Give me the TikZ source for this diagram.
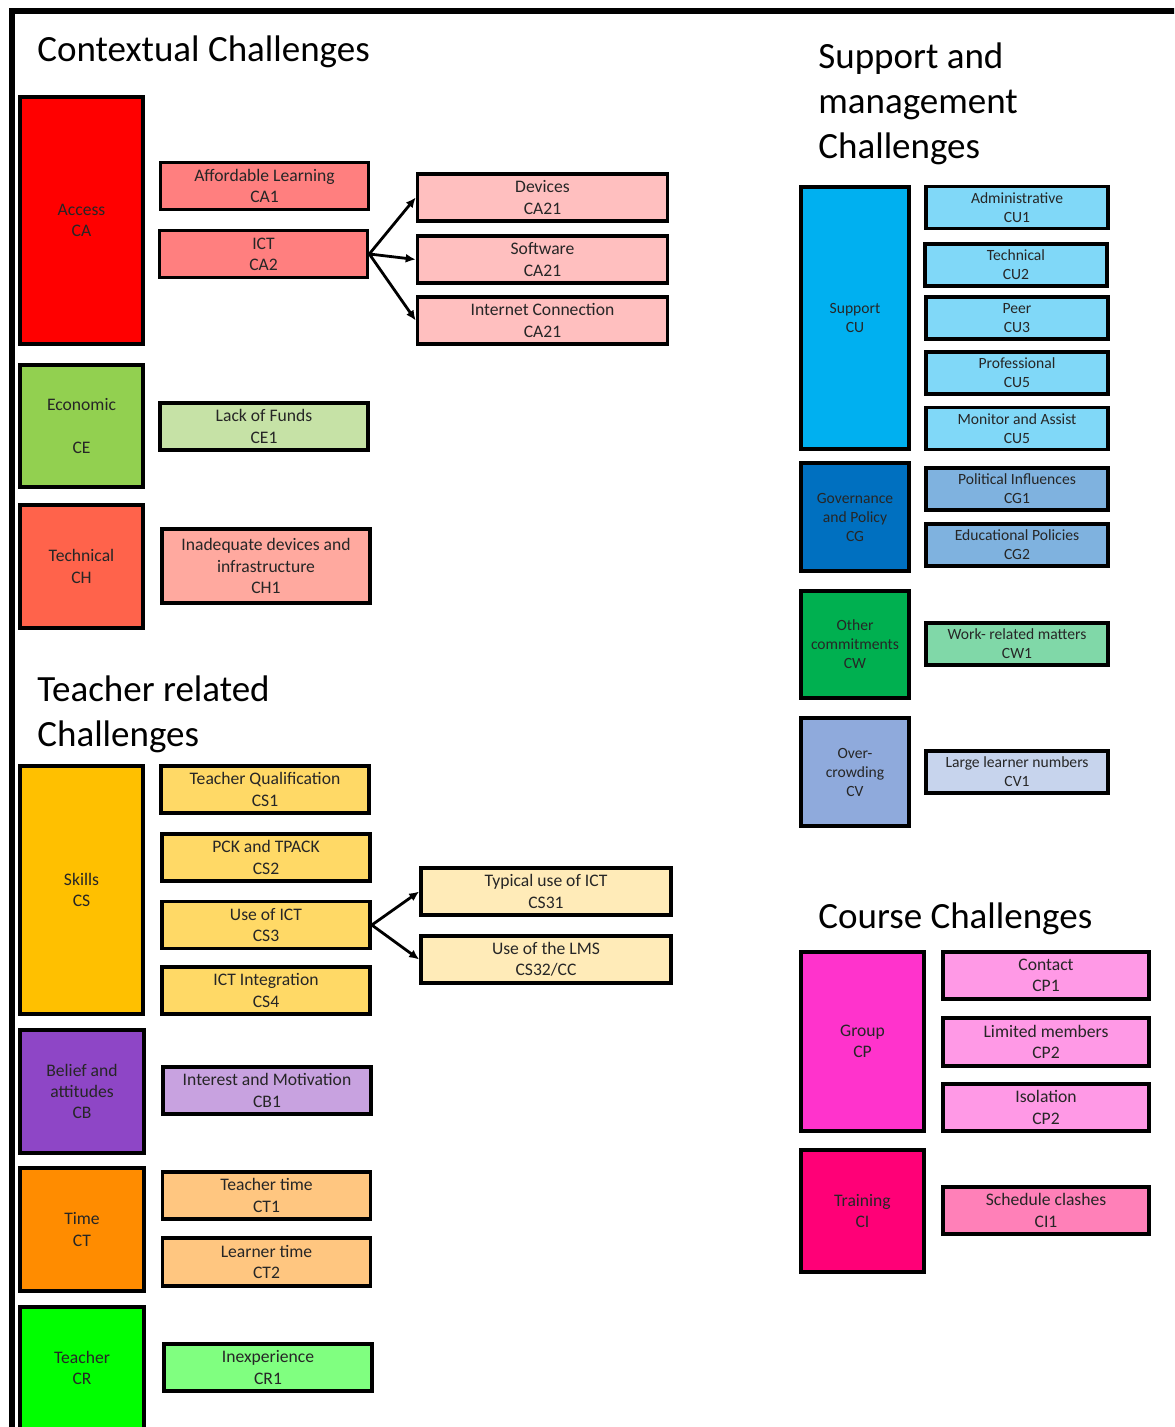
\documentclass[tikz,border=0pt]{standalone}
\usepackage{fontspec}
\setmainfont{Carlito}
\usetikzlibrary{arrows.meta}

% category colours
\definecolor{txt}{HTML}{262626}
\definecolor{cA}{HTML}{FF0000}   \definecolor{cAa}{HTML}{FF7F7F}  \definecolor{cAb}{HTML}{FFBFBF}
\definecolor{cE}{HTML}{92D050}   \definecolor{cEa}{HTML}{C6E2A6}
\definecolor{cH}{HTML}{FF634B}   \definecolor{cHa}{HTML}{FFA99F}
\definecolor{cS}{HTML}{FFC000}   \definecolor{cSa}{HTML}{FFD966}  \definecolor{cSb}{HTML}{FFEBB8}
\definecolor{cB}{HTML}{8E46C6}   \definecolor{cBa}{HTML}{C8A2E0}
\definecolor{cT}{HTML}{FF8C00}   \definecolor{cTa}{HTML}{FFC680}
\definecolor{cR}{HTML}{00FF00}   \definecolor{cRa}{HTML}{80FF80}
\definecolor{cU}{HTML}{00B0F0}   \definecolor{cUa}{HTML}{80D8F8}
\definecolor{cG}{HTML}{0070C0}   \definecolor{cGa}{HTML}{7FB2DF}
\definecolor{cW}{HTML}{00B050}   \definecolor{cWa}{HTML}{80D8A8}
\definecolor{cV}{HTML}{8FAADC}   \definecolor{cVa}{HTML}{C7D4ED}
\definecolor{cP}{HTML}{FF33CC}   \definecolor{cPa}{HTML}{FF99E6}
\definecolor{cI}{HTML}{FF0077}   \definecolor{cIa}{HTML}{FF80B8}

\begin{document}
\begin{tikzpicture}[x=0.5pt,y=-0.5pt]
	\tikzset{box/.style={draw, line width=1.8pt, inner sep=0pt, align=center, text=txt,
	    font=\fontsize{8.8}{10.6}\selectfont}}
	\tikzset{big/.style={box, minimum width=61.5pt, minimum height=61.5pt}}
	\tikzset{sub/.style={box, minimum width=104pt, minimum height=23.5pt}}
	\tikzset{subw/.style={box, minimum width=125pt, minimum height=23.5pt}}
	\tikzset{small/.style={box, font=\fontsize{7.8}{9.5}\selectfont}}
	\tikzset{bigs/.style={small, minimum width=54pt, minimum height=54pt}}
	\tikzset{subs/.style={small, minimum width=91pt, minimum height=21pt}}
	\tikzset{title/.style={inner sep=0pt, align=left, font=\fontsize{18.5}{22.5}\selectfont}}
	\tikzset{arr/.style={-{Latex[length=5pt,width=4.5pt]}, line width=1.4pt}}

	\useasboundingbox (0,0) rectangle (1174,1427);
	\clip (0,0) rectangle (1174,1427);

	% frame
	\draw[line width=3pt] (11.5,1440) -- (11.5,11.5) -- (1190,11.5);

	% headings
	\node[title, anchor=base west] (tctx) at (37,62) {Contextual Challenges};
	\node[title, anchor=north west] (tteach) at (37,675) {Teacher related\\Challenges};
	\node[title, anchor=north west] (tsup) at (818,42.5) {Support and\\management\\Challenges};
	\node[title, anchor=base west] (tcourse) at (818,928) {Course Challenges};

	% contextual
	\node[big, fill=cA, minimum height=123.5pt] (CA) at (81.5,220.5) {Access\\CA};
	\node[sub, fill=cAa] (CA1) at (264.5,186) {Affordable Learning\\CA1};
	\node[sub, fill=cAa] (CA2) at (263.5,254) {ICT\\CA2};
	\node[subw, fill=cAb] (CA21a) at (542.5,197.5) {Devices\\CA21};
	\node[subw, fill=cAb] (CA21b) at (542.5,259.5) {Software\\CA21};
	\node[subw, fill=cAb] (CA21c) at (542.5,320.5) {Internet Connection\\CA21};
	\node[big, fill=cE, minimum height=61pt] (CE) at (81.5,426) {Economic\\[10.6pt]CE};
	\node[sub, fill=cEa] (CE1) at (264,426.5) {Lack of Funds\\CE1};
	\node[big, fill=cH] (CH) at (81.5,566.5) {Technical\\CH};
	\node[sub, fill=cHa, minimum height=37pt] (CH1) at (266,566) {Inadequate devices and\\infrastructure\\CH1};

	% teacher related
	\node[big, fill=cS, minimum height=124pt] (CS) at (81.5,890) {Skills\\CS};
	\node[sub, fill=cSa] (CS1) at (265,789.5) {Teacher Qualification\\CS1};
	\node[sub, fill=cSa] (CS2) at (266,857.5) {PCK and TPACK\\CS2};
	\node[sub, fill=cSa] (CS3) at (266,925) {Use of ICT\\CS3};
	\node[sub, fill=cSa] (CS4) at (266,990.5) {ICT Integration\\CS4};
	\node[subw, fill=cSb] (CS31) at (546,891.5) {Typical use of ICT\\CS31};
	\node[subw, fill=cSb] (CS32) at (546,959.5) {Use of the LMS\\CS32/CC};
	\node[big, fill=cB, minimum width=62pt] (CB) at (82,1091.5) {Belief and\\attitudes\\CB};
	\node[sub, fill=cBa] (CB1) at (267,1090.5) {Interest and Motivation\\CB1};
	\node[big, fill=cT, minimum width=62pt] (CT) at (82,1229.5) {Time\\CT};
	\node[sub, fill=cTa] (CT1) at (266.5,1195.5) {Teacher time\\CT1};
	\node[sub, fill=cTa, minimum height=24pt] (CT2) at (266.5,1262) {Learner time\\CT2};
	\node[big, fill=cR, minimum width=62pt, minimum height=61pt] (CR) at (82,1368) {Teacher\\CR};
	\node[sub, fill=cRa] (CR1) at (268,1367.5) {Inexperience\\CR1};

	% support and management
	\node[bigs, fill=cU, minimum height=131pt] (CU) at (855,318) {Support\\CU};
	\node[subs, fill=cUa] (CU1) at (1017,207.5) {Administrative\\CU1};
	\node[subs, fill=cUa] (CU2) at (1016,265) {Technical\\CU2};
	\node[subs, fill=cUa] (CU3) at (1017,318) {Peer\\CU3};
	\node[subs, fill=cUa] (CU4) at (1017,373) {Professional\\CU5};
	\node[subs, fill=cUa] (CU5) at (1017,428.5) {Monitor and Assist\\CU5};
	\node[bigs, fill=cG] (CG) at (855,517) {Governance\\and Policy\\CG};
	\node[subs, fill=cGa] (CG1) at (1017,489) {Political Influences\\CG1};
	\node[subs, fill=cGa] (CG2) at (1017,545) {Educational Policies\\CG2};
	\node[bigs, fill=cW, minimum height=53.5pt] (CW) at (855,644.5) {Other\\commitments\\CW};
	\node[subs, fill=cWa] (CW1) at (1017,644) {Work- related matters\\CW1};
	\node[bigs, fill=cV] (CV) at (855,772) {Over-\\crowding\\CV};
	\node[subs, fill=cVa] (CV1) at (1017,772) {Large learner numbers\\CV1};

	% course
	\node[big, fill=cP, minimum height=89.5pt] (CP) at (862.5,1041.5) {Group\\CP};
	\node[sub, fill=cPa, minimum width=103pt] (CP1) at (1046,975.5) {Contact\\CP1};
	\node[sub, fill=cPa, minimum width=103pt, minimum height=24pt] (CP2) at (1046,1042) {Limited members\\CP2};
	\node[sub, fill=cPa, minimum width=103pt] (CP3) at (1046,1107.5) {Isolation\\CP2};
	\node[big, fill=cI, minimum height=61pt] (CI) at (862.5,1211) {Training\\CI};
	\node[sub, fill=cIa, minimum width=103pt] (CI1) at (1046,1210.5) {Schedule clashes\\CI1};

	% arrows
	\draw[arr] (CA2.east) -- (CA21a.west);
	\draw[arr] (CA2.east) -- (CA21b.west);
	\draw[arr] (CA2.east) -- (CA21c.west);
	\draw[arr] (CS3.east) -- (CS31.west);
	\draw[arr] (CS3.east) -- (CS32.west);
\end{tikzpicture}
\end{document}
